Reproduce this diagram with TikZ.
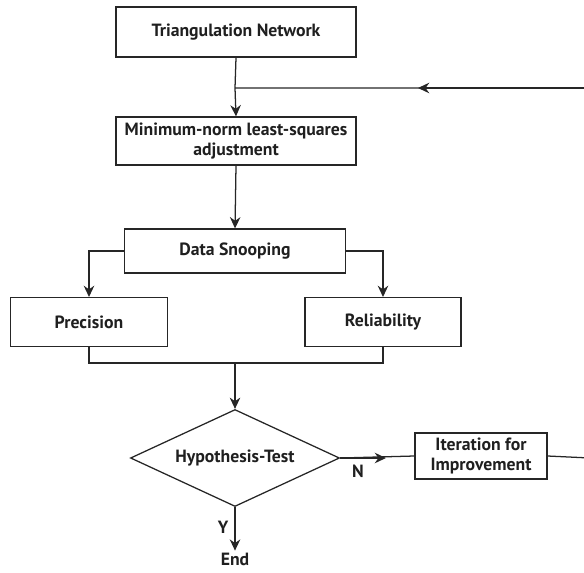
\documentclass[tikz,border=0pt]{standalone}
\usepackage{fontspec}
\setmainfont{PT Sans}
\usetikzlibrary{shapes.geometric,arrows.meta}

\begin{document}
\begin{tikzpicture}
  [x=0.025cm,y=-0.025cm,line width=0.9pt,
   every node/.style={font=\bfseries\fontsize{12.6}{14.5}\selectfont,text=black!88},
   box/.style={draw=black!85,rectangle,align=center,inner sep=2pt},
   test/.style={draw=black!85,diamond,aspect=2.15,inner sep=0pt,minimum width=5.225cm,minimum height=2.425cm},
   tip/.style={-{Stealth[length=8pt,width=7.5pt]}}]

  \path[use as bounding box,clip] (0,0) rectangle (584,572);

  \node[box,minimum width=6cm,minimum height=1.25cm] (net) at (236,32) {Triangulation Network};
  \node[box,minimum width=6cm,minimum height=1.2cm] (adj) at (236,141) {Minimum-norm least-squares\\adjustment};
  \node[box,minimum width=5.52cm,minimum height=1.1cm] (snoop) at (235,251) {Data Snooping};
  \node[box,minimum width=3.92cm,minimum height=1.22cm] (prec) at (89,322) {Precision};
  \node[box,minimum width=3.9cm,minimum height=1.22cm] (rel) at (383,322) {Reliability};
  \node[test] (hyp) at (235,458) {Hypothesis-Test};
  \node[box,minimum width=3.3cm,minimum height=1.15cm] (iter) at (481,456) {Iteration for\\Improvement};
  \node[inner sep=1pt] (end) at (235,559) {End};
  \node (n) at (358,471) {N};
  \node (y) at (223,527) {Y};

  \coordinate (join) at (235,88);
  \coordinate (merge) at (235,363);
  \coordinate (topmid) at (418,88);
  \coordinate (nmid) at (386,458);
  \coordinate (loopA) at (590,458);
  \coordinate (loopB) at (590,88);
  \coordinate (loopmid) at (590,268);

  % main line
  \draw[draw=black!85] (net.south) -- (join);
  \draw[draw=black!85,tip] (join) -- (adj.north);
  \draw[draw=black!85,tip] (adj.south) -- (snoop.north);
  \draw[draw=black!85,tip] (snoop.west) -| (prec.north);
  \draw[draw=black!85,tip] (snoop.east) -| (rel.north);
  \draw[draw=black!85] (prec.south) |- (merge) -| (rel.south);
  \draw[draw=black!85,tip] (merge) -- (hyp.north);
  \draw[draw=black!85,tip] (hyp.south) -- (end.north);

  % feedback loop
  \draw[draw=black!85] (hyp.east) -- (iter.west);
  \draw[draw=black!85,tip] (hyp.east) -- (nmid);
  \draw[draw=black!85] (iter.east) -- (loopA) -- (loopB) -- (join);
  \draw[draw=black!85,tip] (loopA) -- (loopmid);
  \draw[draw=black!85,tip] (loopB) -- (topmid);

\end{tikzpicture}
\end{document}
